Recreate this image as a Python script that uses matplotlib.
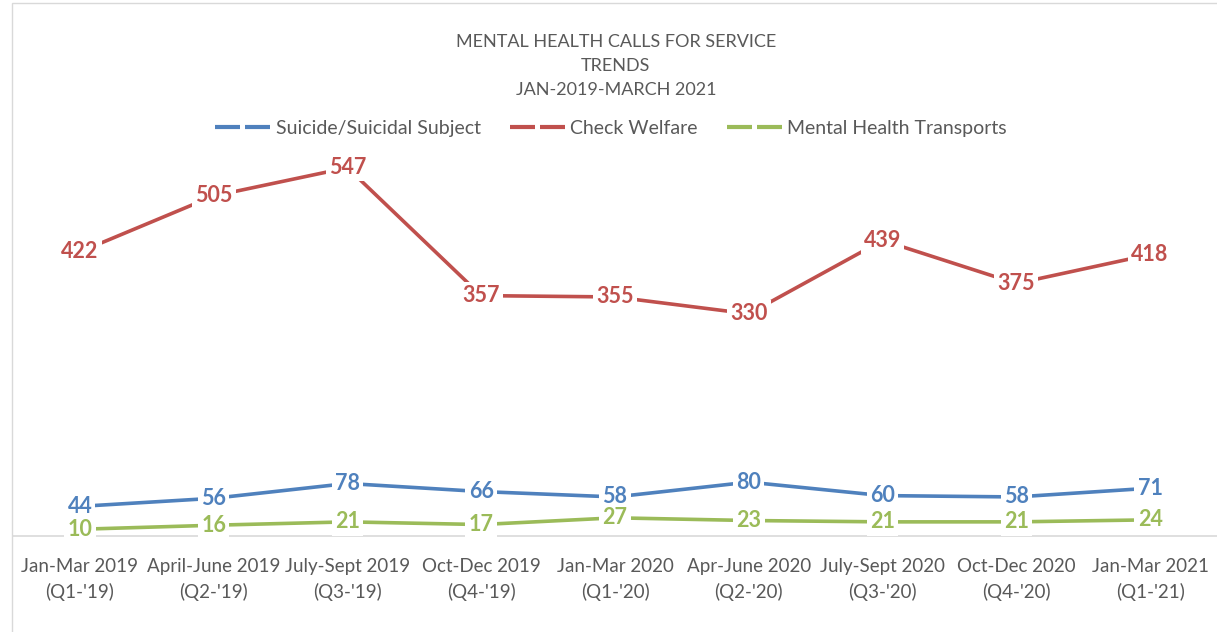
import matplotlib.pyplot as plt
from matplotlib.lines import Line2D
from matplotlib.patches import Rectangle

plt.rcParams['font.family'] = ['Lato', 'DejaVu Sans']

# data
quarters = ["Jan-Mar 2019\n(Q1-'19)", "April-June 2019\n(Q2-'19)", "July-Sept 2019\n(Q3-'19)",
            "Oct-Dec 2019\n(Q4-'19)", "Jan-Mar 2020\n(Q1-'20)", "Apr-June 2020\n(Q2-'20)",
            "July-Sept 2020\n(Q3-'20)", "Oct-Dec 2020\n(Q4-'20)", "Jan-Mar 2021\n(Q1-'21)"]
suicide = [44, 56, 78, 66, 58, 80, 60, 58, 71]
welfare = [422, 505, 547, 357, 355, 330, 439, 375, 418]
transports = [10, 16, 21, 17, 27, 23, 21, 21, 24]

series = [("Suicide/Suicidal Subject", suicide, '#4F81BD'),
          ("Check Welfare", welfare, '#C0504D'),
          ("Mental Health Transports", transports, '#9BBB59')]

fig = plt.figure(figsize=(12.17, 6.32), dpi=100)
fig.patches.append(Rectangle((0.0095, -0.01), 1.0, 1.005, transform=fig.transFigure,
                             fill=False, edgecolor='#D9D9D9', linewidth=1))
ax = fig.add_axes([13 / 1217, 1 - 536 / 632, 1 - 13 / 1217, (536 - 132) / 632])

x = list(range(len(quarters)))
handles = []
for name, vals, col in series:
    ax.plot(x, vals, color=col, linewidth=2.6, solid_capstyle='round')
    for xi, v in zip(x, vals):
        ax.text(xi, v, str(v), ha='center', va='center', fontsize=15.5, fontweight='bold',
                color=col, bbox=dict(boxstyle='square,pad=0.15', fc='white', ec='none'))
    handles.append(Line2D([], [], color=col, linewidth=3, linestyle=(0, (6, 1.2)),
                          dash_capstyle='butt', label=name))

ax.set_xlim(-0.5, len(quarters) - 0.5)
ax.set_ylim(0, 600)
ax.set_yticks([])
ax.set_xticks(x)
ax.set_xticklabels(quarters, fontsize=13.5, color='#595959', linespacing=1.5)
ax.tick_params(axis='x', length=0, pad=16)
for s in ['top', 'right', 'left']:
    ax.spines[s].set_visible(False)
ax.spines['bottom'].set_color('#D9D9D9')
ax.spines['bottom'].set_linewidth(1.2)

fig.text(0.506, 1 - 66 / 632, "MENTAL HEALTH CALLS FOR SERVICE\nTRENDS\nJAN-2019-MARCH 2021",
         ha='center', va='center', fontsize=13, color='#595959', linespacing=1.65)
fig.legend(handles=handles, loc='center', bbox_to_anchor=(0.502, 1 - 128 / 632), ncol=3,
           frameon=False, fontsize=14, handlelength=2.9, columnspacing=1.5,
           handletextpad=0.2, labelcolor='#595959')

fig.savefig('out.png', dpi=100)
